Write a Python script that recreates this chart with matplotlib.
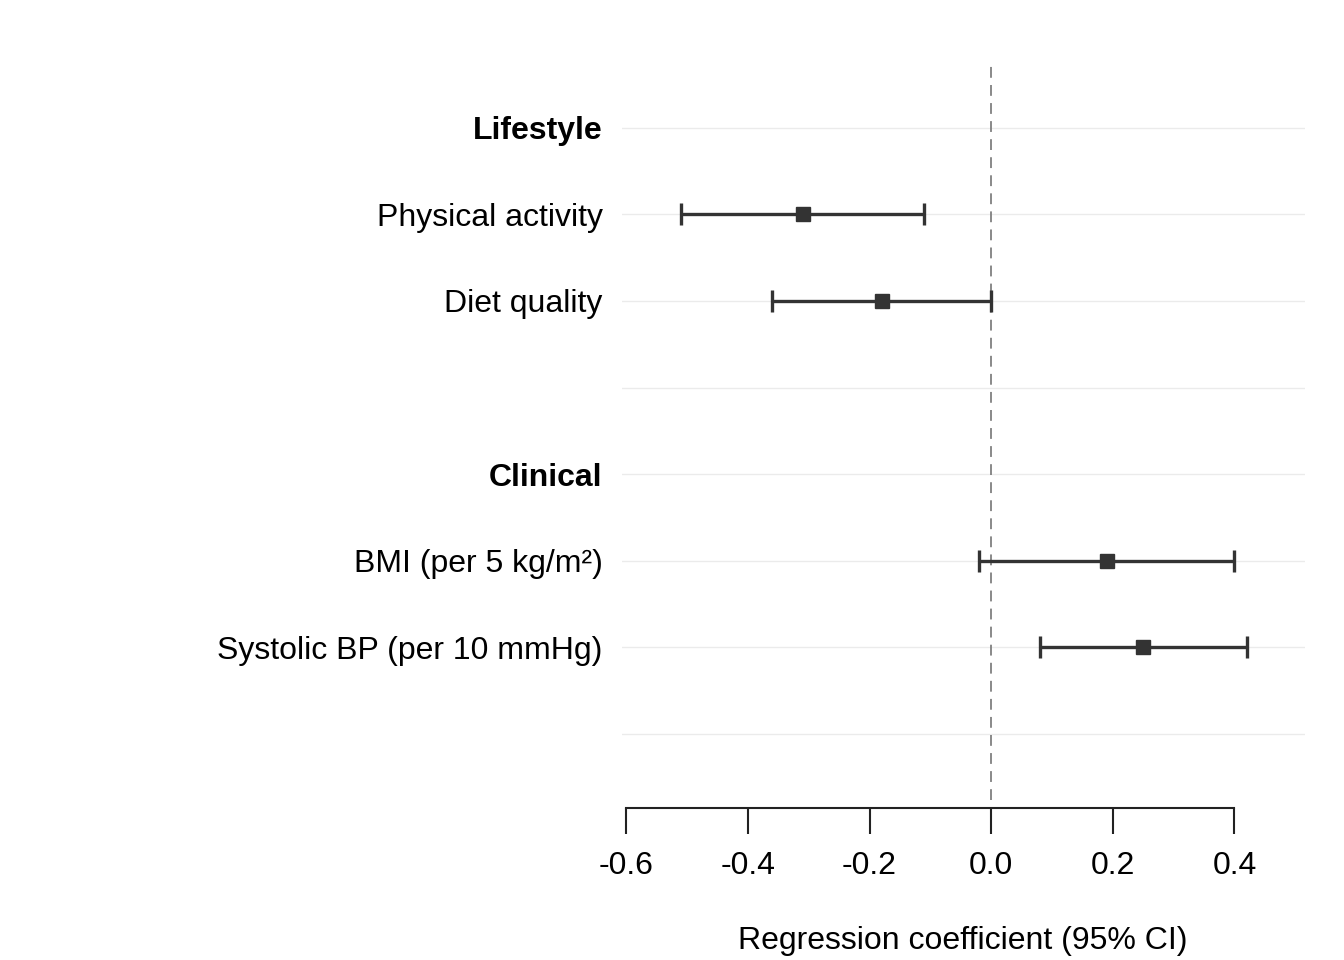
import matplotlib
matplotlib.use("Agg")
import matplotlib.pyplot as plt

# rows from top to bottom; "" = spacer row
labels = ["Lifestyle", "Physical activity", "Diet quality", "",
          "Clinical", "BMI (per 5 kg/m²)", "Systolic BP (per 10 mmHg)", ""]
headers = ["Lifestyle", "Clinical"]

# estimates and 95% CI (None for header / spacer rows)
est = [None, -0.31, -0.18, None, None, 0.19, 0.25, None]
lower = [None, -0.51, -0.36, None, None, -0.02, 0.08, None]
upper = [None, -0.11, 0.00, None, None, 0.40, 0.42, None]

xticks = [-0.6, -0.4, -0.2, 0.0, 0.2, 0.4]

plt.rcParams['font.family'] = ['Liberation Sans', 'DejaVu Sans']

fig = plt.figure(figsize=(13.44, 9.6), dpi=100)
ax = fig.add_axes([622 / 1344, 1 - 800 / 960, (1305 - 622) / 1344, (800 - 60) / 960])

ypos = list(range(len(labels)))
for y in ypos:
    ax.axhline(y, color="#ebebeb", lw=1, zorder=0)

ax.axvline(0, color="#808080", lw=1.3, ls=(0, (6, 4)), zorder=1)

for y, e, lo, hi in zip(ypos, est, lower, upper):
    if e is None:
        continue
    ax.errorbar(e, y, xerr=[[e - lo], [hi - e]], fmt="s", color="#333333",
                ms=10, elinewidth=2.4, capsize=8, capthick=2.4, zorder=3)

ax.set_ylim(len(labels) - 1 + 0.76, -0.78)
ax.set_xlim(-0.607, 0.516)
ax.set_yticks(ypos)
ax.set_yticklabels(labels)
for t in ax.get_yticklabels():
    if t.get_text() in headers:
        t.set_fontweight("bold")
ax.tick_params(axis="y", length=0, pad=14, labelsize=23)

ax.set_xticks(xticks)
ax.set_xticklabels([f"{v:.1f}" for v in xticks])
ax.tick_params(axis="x", length=19, width=1.5, pad=12, color="#222222", labelsize=23)

for s in ["top", "right", "left"]:
    ax.spines[s].set_visible(False)
ax.spines["bottom"].set_position(("outward", 6))
ax.spines["bottom"].set_bounds(-0.6, 0.4)
ax.spines["bottom"].set_linewidth(1.5)
ax.spines["bottom"].set_color("#222222")

ax.set_xlabel("Regression coefficient (95% CI)", fontsize=23)
ax.xaxis.set_label_coords((963 - 622) / (1305 - 622), -(941 - 800) / 740, transform=ax.transAxes)
ax.xaxis.label.set_va("center")

fig.savefig("out.png", dpi=100)
